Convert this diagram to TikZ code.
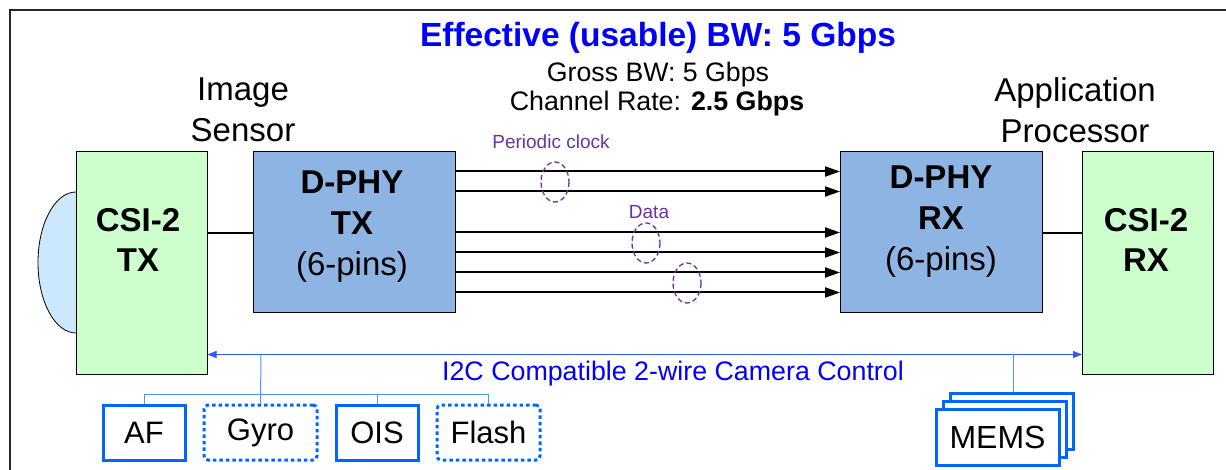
\documentclass[tikz,border=0pt]{standalone}
\usepackage{fontspec}
\setmainfont{Liberation Sans}
\usetikzlibrary{arrows.meta}
\definecolor{csigreen}{RGB}{204,255,204}
\definecolor{phyblue}{RGB}{142,180,227}
\definecolor{lensblue}{RGB}{204,232,255}
\definecolor{ttlblue}{RGB}{0,0,255}
\definecolor{busblue}{RGB}{51,85,255}
\definecolor{brblue}{RGB}{77,148,255}
\definecolor{boxblue}{RGB}{0,102,255}
\definecolor{lanepurple}{RGB}{112,48,160}
\definecolor{framegray}{RGB}{40,40,40}
\tikzset{
  fs/.style={font=\fontsize{#1}{#1}\selectfont},
  blk/.style={draw=black, line width=1pt, inner sep=0pt},
  csibox/.style={blk, fill=csigreen, minimum width=131pt, minimum height=222pt},
  phybox/.style={blk, fill=phyblue, minimum width=202pt, minimum height=161pt},
  bigtxt/.style={align=center, font=\fontsize{33}{41}\selectfont},
  lane/.style={line width=2pt, -{Triangle[length=15pt,width=10pt]}},
  grp/.style={lanepurple, line width=1.3pt, dash pattern=on 5pt off 3pt},
  bus/.style={busblue, line width=1pt, {Triangle[length=9pt,width=7pt]}-{Triangle[length=9pt,width=7pt]}},
  branch/.style={brblue, line width=1pt},
  perbox/.style={draw=boxblue, line width=3pt, fill=white, inner sep=0pt, minimum height=55pt, font=\fontsize{31}{31}\selectfont},
  optbox/.style={perbox, dash pattern=on 3.5pt off 3pt, rounded corners=4pt},
}
\begin{document}
\begin{tikzpicture}[x=1pt,y=-1pt]
\useasboundingbox (0,0) rectangle (1226,470);
% frame
\draw[framegray, line width=2pt] (1226,10) -- (10,10) -- (10,471);
% header text
\node[text=ttlblue, font=\fontsize{33.5}{33.5}\selectfont\bfseries] (title) at (658,38) {Effective (usable) BW: 5 Gbps};
\node[fs=26.7] (gross) at (658,75) {Gross BW: 5 Gbps};
\node[fs=26.8] (crate) at (657,104) {Channel Rate: \textbf{2.5 Gbps}};
\node[bigtxt] (isens) at (243,110) {Image\\Sensor};
\node[bigtxt] (aproc) at (1075,110) {Application\\Processor};
% lens
\draw[fill=lensblue, line width=0.8pt] (76,262.5) ellipse [x radius=38, y radius=70.5];
% boxes
\node[csibox] (csitx) at (141.5,263) {};
\node[csibox] (csirx) at (1148,263) {};
\node[phybox] (dtx) at (354,232.5) {};
\node[phybox] (drx) at (941.5,232.5) {};
\node[bigtxt, font=\fontsize{33}{40}\selectfont\bfseries] (csitxt) at (138,240) {CSI-2\\TX};
\node[bigtxt, font=\fontsize{33}{40}\selectfont\bfseries] (csirxt) at (1146,240) {CSI-2\\RX};
\node[bigtxt] (dtxt) at (352,227) {\textbf{D-PHY}\\\textbf{TX}\\(6-pins)};
\node[bigtxt] (drxt) at (941,222) {\textbf{D-PHY}\\\textbf{RX}\\(6-pins)};
% links csi-phy
\coordinate (lt) at ([yshift=30pt]csitx.east);
\coordinate (rt) at ([yshift=30pt]csirx.west);
\draw[line width=1.6pt] (lt) -- (lt -| dtx.west);
\draw[line width=1.6pt] (rt -| drx.east) -- (rt);
% lanes
\foreach \d in {20,40,81,101,121,141}{
  \draw[lane] ([yshift=-\d pt]dtx.north east) -- ([yshift=-\d pt]drx.north west);
}
% lane groups
\draw[grp] (555,182) ellipse [x radius=14, y radius=20];
\draw[grp] (646,243) ellipse [x radius=14, y radius=20];
\draw[grp] (687,283) ellipse [x radius=14, y radius=20];
\node[fs=19, text=lanepurple] (pclk) at (551,142) {Periodic clock};
\node[fs=19, text=lanepurple] (pdata) at (649,212) {Data};
% I2C bus
\draw[bus] ([yshift=20pt]csitx.south east) -- ([yshift=20pt]csirx.south west);
\node[fs=26.8, text=ttlblue] (i2c) at (673,374) {I2C Compatible 2-wire Camera Control};
\coordinate (j1) at (261,354);
\coordinate (j2) at (1013,354);
\coordinate (busy) at (0,394);
% peripherals
\node[perbox, minimum width=82pt] (af) at (144,432.5) {AF};
\node[optbox, minimum width=113pt] (gyro) at (260.5,432.5) {Gyro};
\node[perbox, minimum width=82pt] (ois) at (377,432.5) {OIS};
\node[optbox, minimum width=103pt] (flash) at (488.5,432.5) {Flash};
\draw[branch] (j1) -- (gyro.north);
\draw[branch] (af.north) -- (af.north |- busy) -| (flash.north);
\draw[branch] (ois.north) -- (ois.north |- busy);
% MEMS stack
\node[perbox, minimum width=123pt, minimum height=56pt] (mems3) at (1011.5,421.5) {};
\node[perbox, minimum width=123pt, minimum height=56pt] (mems2) at (1004.5,429.5) {};
\node[perbox, minimum width=123pt, minimum height=56pt, font=\fontsize{32}{32}\selectfont] (mems) at (997.5,437) {MEMS};
\draw[branch] (j2) -- (j2 |- mems3.north);
\end{tikzpicture}
\end{document}
